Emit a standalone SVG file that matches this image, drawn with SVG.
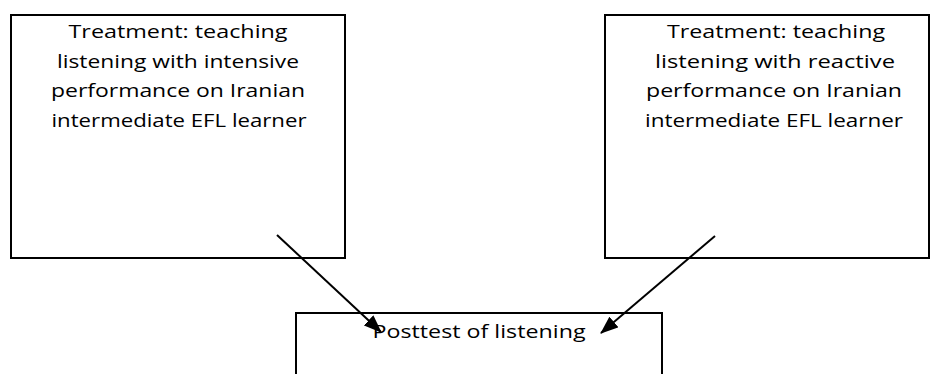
<svg xmlns="http://www.w3.org/2000/svg" width="931" height="374" viewBox="0 0 931 374">
<style>
.box{fill:#fff;stroke:#000;stroke-width:2}
.t{font-family:"Open Sans","Liberation Sans",Arial,sans-serif;font-size:19px;fill:#000;text-anchor:middle}
.c{stroke:#000;stroke-width:2;fill:none}
</style>
<defs>
<marker id="arr" viewBox="0 0 18 14" refX="17" refY="7" markerWidth="18" markerHeight="14" markerUnits="userSpaceOnUse" orient="auto">
<path d="M0,0 L18,7 L0,14 z" fill="#000"/>
</marker>
</defs>
<g id="node-intensive">
<rect class="box" x="11" y="15" width="334" height="243"/>
<text class="t" x="178" y="38" textLength="219" lengthAdjust="spacingAndGlyphs">Treatment: teaching</text>
<text class="t" x="178" y="68" textLength="242" lengthAdjust="spacingAndGlyphs">listening with intensive</text>
<text class="t" x="178" y="97" textLength="254" lengthAdjust="spacingAndGlyphs">performance on Iranian</text>
<text class="t" x="179" y="127" textLength="255" lengthAdjust="spacingAndGlyphs">intermediate EFL learner</text>
</g>
<g id="node-reactive">
<rect class="box" x="605" y="15" width="324" height="243"/>
<text class="t" x="776" y="38" textLength="218" lengthAdjust="spacingAndGlyphs">Treatment: teaching</text>
<text class="t" x="775" y="68" textLength="240" lengthAdjust="spacingAndGlyphs">listening with reactive</text>
<text class="t" x="774" y="97" textLength="256" lengthAdjust="spacingAndGlyphs">performance on Iranian</text>
<text class="t" x="774" y="127" textLength="258" lengthAdjust="spacingAndGlyphs">intermediate EFL learner</text>
</g>
<g id="node-posttest">
<rect class="box" x="296" y="313" width="366" height="70"/>
<text class="t" x="479" y="338" textLength="213" lengthAdjust="spacingAndGlyphs">Posttest of listening</text>
</g>
<g id="connectors">
<line class="c" x1="277" y1="235" x2="381" y2="332" marker-end="url(#arr)"/>
<line class="c" x1="715" y1="236" x2="601" y2="333" marker-end="url(#arr)"/>
</g>
</svg>
